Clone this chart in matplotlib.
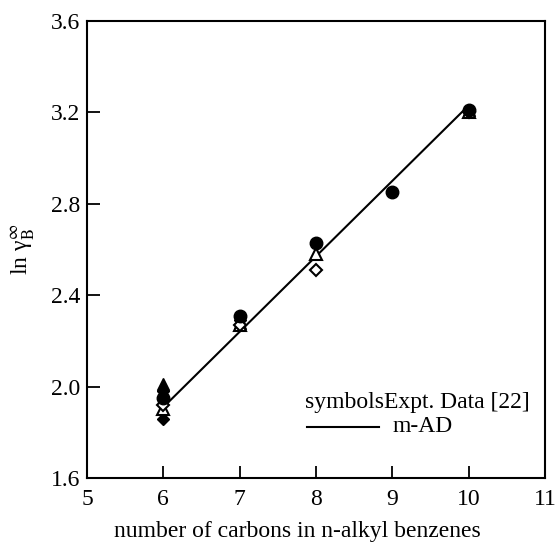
import numpy as np
import matplotlib
matplotlib.use("Agg")
import matplotlib.pyplot as plt

plt.rcParams['font.family'] = ['Liberation Serif', 'DejaVu Serif']
plt.rcParams['mathtext.fontset'] = 'stix'
plt.rcParams['font.size'] = 17

x_circ = [6, 7, 8, 9, 10]
y_circ = [1.95, 2.31, 2.63, 2.85, 3.21]

x_tri = [6, 7, 8, 10]
y_tri = [1.90, 2.27, 2.58, 3.20]

x_dia = [6, 7, 8, 10]
y_dia = [1.92, 2.27, 2.51, 3.20]

x_ftri = [6, 7, 10]
y_ftri = [2.01, 2.28, 3.21]

x_fdia = [6, 6, 7]
y_fdia = [1.86, 1.98, 2.29]

# m-AD line
x_fit = [6, 10]
y_fit = [1.91, 3.23]

fig = plt.figure(figsize=(5.56, 5.42), dpi=100)
ax = fig.add_axes([0.1565, 0.118, 0.8235, 0.8433])

ax.plot(x_fit, y_fit, color='black', lw=1.5, zorder=2)

ms = 8
ax.plot(x_ftri, y_ftri, '^', color='black', ms=ms, zorder=3)
ax.plot(x_fdia, y_fdia, 'D', color='black', ms=ms - 2, zorder=3)
ax.plot(x_tri, y_tri, '^', mfc='white', mec='black', mew=1.5, ms=ms, zorder=4)
ax.plot(x_dia, y_dia, 'D', mfc='white', mec='black', mew=1.5, ms=ms - 2, zorder=4)
ax.plot(x_circ, y_circ, 'o', color='black', ms=ms + 1, zorder=5)

ax.set_xlim(5, 11)
ax.set_ylim(1.6, 3.6)
ax.set_xticks(np.arange(5, 12, 1))
ax.set_yticks(np.arange(1.6, 3.61, 0.4))
ax.set_yticklabels(['1.6', '2.0', '2.4', '2.8', '3.2', '3.6'])
ax.tick_params(direction='in', length=9, width=1.3)
ax.tick_params(axis='x', pad=8)
ax.tick_params(axis='y', pad=5)
for s in ax.spines.values():
    s.set_linewidth(1.5)

ax.set_xlabel('number of carbons in n-alkyl benzenes')
ax.xaxis.set_label_coords(0.46, -0.095)
ax.set_ylabel(r'ln γ$_\mathrm{B}^{\infty}$', labelpad=10)

# legend drawn by hand
ax.text(0.476, 0.166, 'symbolsExpt. Data [22]', transform=ax.transAxes,
        ha='left', va='center')
ax.plot([0.48, 0.638], [0.112, 0.112], color='black', lw=1.5,
        transform=ax.transAxes)
ax.text(0.668, 0.112, 'm-AD', transform=ax.transAxes, ha='left', va='center')

fig.savefig('out.png', dpi=100)
